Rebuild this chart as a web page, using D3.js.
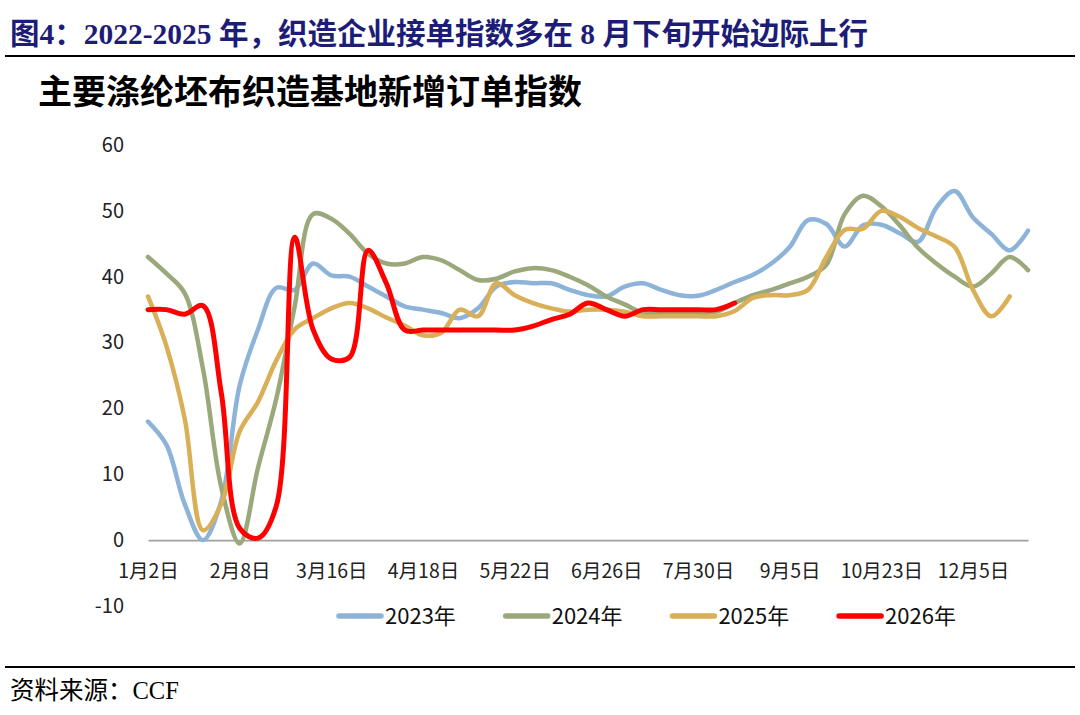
<!DOCTYPE html>
<html>
<head>
<meta charset="utf-8">
<script src="https://cdn.jsdelivr.net/npm/d3@7"></script>
<style>
  body { margin: 0; background: #fff; }
  text { font-family: "Noto Sans CJK SC", "Noto Sans", sans-serif; }
</style>
</head>
<body>
<svg id="chart"></svg>
<script>
// x axis labels, one every 5 points
const tickLabels = ["1月2日", "2月8日", "3月16日", "4月18日", "5月22日", "6月26日", "7月30日", "9月5日", "10月23日", "12月5日"];
const labelEvery = 5;
const pointCount = 49;

const seriesNames = ["2023年", "2024年", "2025年", "2026年"];

const values2023 = [18, 14.5, 5.5, 0, 6, 23.5, 32, 38.3, 38, 42, 40.2, 40, 38.5, 37, 35.5, 35, 34.5, 33.7, 35.2, 38.5,
    39.2, 39, 39, 38, 37.2, 37, 38.5, 39, 38, 37.2, 37.1, 38, 39.2, 40.3, 42, 44.5, 48.6, 48, 44.6, 47.8,
    47.9, 46.6, 45.3, 50.5, 53, 49, 46.5, 44, 47];
const values2024 = [43, 40.5, 37.5, 26, 8, -0.5, 11, 21.5, 35.5, 49.5, 48.8, 46.5, 43.5, 42, 42, 43, 42.5, 41, 39.5, 39.7,
    40.8, 41.3, 41, 40, 38.7, 37, 35.8, 34.5, 34.5, 34.5, 34.5, 34.7, 36, 37.2, 38, 39, 40, 41.8, 49.5, 52.3,
    50.7, 47.8, 44.4, 42, 40, 38.5, 40.5, 43, 41];
const values2025 = [37, 29.5, 18.5, 1.5, 5.5, 16.5, 21, 27.3, 32, 33.7, 35.2, 36, 35.2, 33.8, 32.6, 31.1, 31.5, 35, 34, 39,
    37.2, 36, 35.2, 34.7, 35, 35, 34.7, 34, 34, 34, 34, 34, 34.8, 36.8, 37.2, 37.2, 38, 43, 47.1, 47.3,
    50, 49.1, 47.4, 46.1, 44.5, 38, 34, 37];
const values2026 = [35, 35, 34.3, 35.6, 22.3, 1.8, 0.3, 5.2, 46, 32, 27.5, 27.8, 44, 39, 31.9, 31.9, 31.9, 31.9, 31.9, 31.9,
    31.9, 32.5, 33.5, 34.3, 36, 35, 34, 35, 35, 35, 35, 35, 36];

const yTicks = [60, 50, 40, 30, 20, 10, 0, -10];
const colors = ["#8db4d8", "#9ba87b", "#d9af57", "#ff0000"];

const width = 1080, height = 715;
const svg = d3.select("#chart")
    .attr("width", width)
    .attr("height", height);

svg.append("rect").attr("width", width).attr("height", height).attr("fill", "#fff");

// headers
svg.append("text")
    .attr("x", 10)
    .attr("y", 44)
    .attr("fill", "#1d1d78")
    .style("font-family", "'Liberation Serif', 'Noto Sans CJK SC', serif")
    .style("font-weight", "bold")
    .style("font-size", "29.5px")
    .text("图4：2022-2025 年，织造企业接单指数多在 8 月下旬开始边际上行");

svg.append("line")
    .attr("x1", 5).attr("x2", 1075)
    .attr("y1", 56).attr("y2", 56)
    .attr("stroke", "#000")
    .attr("stroke-width", 2);

svg.append("text")
    .attr("x", 38)
    .attr("y", 104)
    .attr("fill", "#000")
    .style("font-weight", "bold")
    .style("font-size", "34px")
    .text("主要涤纶坯布织造基地新增订单指数");

// scales
let x = d3.scalePoint()
    .domain(d3.range(pointCount))
    .range([148, 1028]);
let y = d3.scaleLinear()
    .domain([-10, 60])
    .range([606, 145]);

// y axis labels only
let yAxis = d3.axisLeft(y)
    .tickValues(yTicks)
    .tickFormat(d => String(d))
    .tickSize(0)
    .tickPadding(0);
let yg = svg.append("g")
    .attr("transform", "translate(124,0)")
    .call(yAxis);
yg.select(".domain").remove();
yg.selectAll("text")
    .attr("fill", "#222")
    .style("font-size", "20px")
    .style("font-family", "'Noto Sans CJK SC', sans-serif");

// x axis sits on zero
let xAxis = d3.axisBottom(x)
    .tickValues(d3.range(0, pointCount, labelEvery).filter(i => i / labelEvery < tickLabels.length))
    .tickFormat(i => tickLabels[i / labelEvery])
    .tickSizeInner(0)
    .tickSizeOuter(0);
let xg = svg.append("g")
    .attr("transform", "translate(0," + y(0) + ")")
    .call(xAxis);
xg.select(".domain")
    .attr("stroke", "#a0a0a0")
    .attr("stroke-width", 1.6);
xg.selectAll("text")
    .attr("y", 31)
    .attr("dy", "0.35em")
    .attr("fill", "#222")
    .style("font-size", "19.5px")
    .style("font-family", "'Noto Sans CJK SC', sans-serif");

// lines
let allValues = [values2023, values2024, values2025, values2026];
let line = d3.line()
    .x((d, i) => x(i))
    .y(d => y(d))
    .curve(d3.curveCatmullRom.alpha(0.5));

svg.selectAll(".series")
    .data(allValues)
    .enter().append("path")
    .attr("class", "series")
    .attr("fill", "none")
    .attr("stroke", (d, i) => colors[i])
    .attr("stroke-width", (d, i) => i === 3 ? 5 : 4.5)
    .attr("stroke-linejoin", "round")
    .attr("stroke-linecap", "round")
    .attr("d", line);

// legend
let legend = svg.selectAll(".legend")
    .data(seriesNames)
    .enter().append("g")
    .attr("class", "legend")
    .attr("transform", (d, i) => "translate(" + (337 + i * 166.7) + ",616)");
legend.append("line")
    .attr("x1", 2).attr("x2", 44)
    .attr("stroke", (d, i) => colors[i])
    .attr("stroke-width", 5.5)
    .attr("stroke-linecap", "round");
legend.append("text")
    .attr("x", 48)
    .attr("dy", "0.35em")
    .attr("fill", "#111")
    .style("font-size", "22px")
    .text(d => d);

// source
svg.append("line")
    .attr("x1", 5).attr("x2", 1075)
    .attr("y1", 667).attr("y2", 667)
    .attr("stroke", "#000")
    .attr("stroke-width", 2);
svg.append("text")
    .attr("x", 10)
    .attr("y", 699)
    .attr("fill", "#000")
    .style("font-family", "'Liberation Serif', 'Noto Sans CJK SC', serif")
    .style("font-size", "24.5px")
    .text("资料来源：CCF");
</script>
</body>
</html>
